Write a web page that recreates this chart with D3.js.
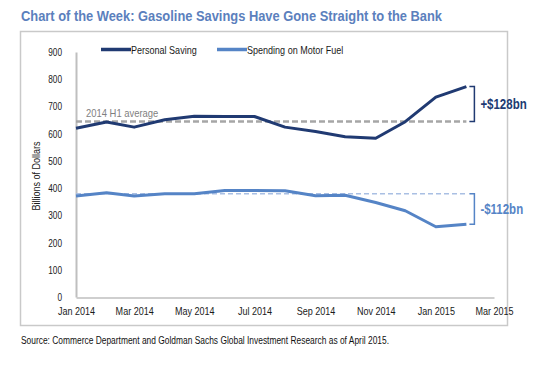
<!DOCTYPE html>
<html>
<head>
<meta charset="utf-8">
<script src="https://cdn.jsdelivr.net/npm/d3@7"></script>
<style>
  body { margin: 0; background: #fff; }
  text { font-family: "Liberation Sans", Arial, sans-serif; }
</style>
</head>
<body>
<div id="chart"></div>
<script>
// data (billions of dollars, monthly)
var months = ["2014-01", "2014-02", "2014-03", "2014-04", "2014-05", "2014-06", "2014-07",
              "2014-08", "2014-09", "2014-10", "2014-11", "2014-12", "2015-01", "2015-02"];
var personalSaving = [620, 643, 624, 651, 664, 663, 663, 624, 608, 589, 583, 644, 734, 773];
var motorFuel = [371, 383, 371, 379, 379, 391, 391, 390, 372, 374, 347, 317, 258, 267];
var savingH1Avg = 645;
var fuelH1Avg = 379;
var yTicks = [0, 100, 200, 300, 400, 500, 600, 700, 800, 900];
var xTicks = ["2014-01", "2014-03", "2014-05", "2014-07", "2014-09", "2014-11", "2015-01", "2015-03"];

var width = 550, height = 372;
var margin = { left: 76, right: 56, top: 52, bottom: 75 };
var parseMonth = d3.timeParse("%Y-%m");

// squeeze text horizontally to look like a narrow font
function narrow(sel, k) {
  sel.each(function() {
    var w = this.getComputedTextLength();
    d3.select(this)
      .attr("textLength", w * (k || 0.82))
      .attr("lengthAdjust", "spacingAndGlyphs");
  });
}

var svg = d3.select("#chart")
  .append("svg")
    .attr("width", width)
    .attr("height", height);

// title
svg.append("text")
  .attr("x", 21)
  .attr("y", 21)
  .attr("textLength", 421)
  .attr("lengthAdjust", "spacingAndGlyphs")
  .style("font-size", "15px")
  .style("font-weight", "bold")
  .style("fill", "#5b80bd")
  .text("Chart of the Week: Gasoline Savings Have Gone Straight to the Bank");

// frame
svg.append("rect")
  .attr("x", 20.5)
  .attr("y", 31.5)
  .attr("width", 487)
  .attr("height", 294)
  .attr("fill", "none")
  .attr("stroke", "#c9c9c9")
  .attr("stroke-width", 1.5);

// source
svg.append("text")
  .attr("x", 21)
  .attr("y", 344)
  .attr("textLength", 368)
  .attr("lengthAdjust", "spacingAndGlyphs")
  .style("font-size", "10px")
  .style("fill", "#111")
  .text("Source: Commerce Department and Goldman Sachs Global Investment Research as of April 2015.");

var x = d3.scaleTime()
  .domain([parseMonth("2014-01"), parseMonth("2015-03")])
  .range([margin.left, 494]);

var y = d3.scaleLinear()
  .domain([0, 900])
  .range([297, margin.top]);

// X axis
var gx = svg.append("g")
  .attr("transform", "translate(0,297.5)")
  .call(d3.axisBottom(x)
    .tickValues(xTicks.map(parseMonth))
    .tickFormat(d3.timeFormat("%b %Y"))
    .tickSize(0)
    .tickPadding(10));
gx.select(".domain").attr("stroke", "#bfbfbf").attr("stroke-width", 1.5);
gx.selectAll("text").style("font-size", "11px").style("fill", "#1a1a1a").style("font-family", "Liberation Sans, Arial").call(narrow);

// Y axis
var gy = svg.append("g")
  .attr("transform", "translate(" + margin.left + ",0)")
  .call(d3.axisLeft(y)
    .tickValues(yTicks)
    .tickSize(0)
    .tickPadding(14));
gy.select(".domain").attr("stroke", "#bfbfbf").attr("stroke-width", 2);
gy.selectAll("text").style("font-size", "11px").style("fill", "#1a1a1a").style("font-family", "Liberation Sans, Arial").call(narrow, 0.75);

// y axis title
svg.append("text")
  .attr("transform", "translate(40,176) rotate(-90)")
  .attr("text-anchor", "middle")
  .style("font-size", "11px")
  .style("fill", "#1a1a1a")
  .text("Billions of Dollars")
  .call(narrow);

var dates = months.map(parseMonth);
var first = dates[0], last = dates[dates.length - 1];

// average reference lines
svg.append("line")
  .attr("x1", x(first)).attr("x2", x(last))
  .attr("y1", y(savingH1Avg)).attr("y2", y(savingH1Avg))
  .attr("stroke", "#a6a6a6")
  .attr("stroke-width", 2.5)
  .attr("stroke-dasharray", "6,3");

svg.append("line")
  .attr("x1", x(first)).attr("x2", x(last))
  .attr("y1", y(fuelH1Avg)).attr("y2", y(fuelH1Avg))
  .attr("stroke", "#a9bfe3")
  .attr("stroke-width", 1.5)
  .attr("stroke-dasharray", "5,3");

svg.append("text")
  .attr("x", 86)
  .attr("y", y(savingH1Avg) - 4)
  .style("font-size", "11.5px")
  .style("fill", "#7f7f7f")
  .text("2014 H1 average")
  .call(narrow);

// lines
var line = d3.line()
  .x((d, i) => x(dates[i]))
  .y((d) => y(d));

svg.append("path")
  .datum(personalSaving)
  .attr("fill", "none")
  .attr("stroke", "#203a72")
  .attr("stroke-width", 3)
  .attr("stroke-linejoin", "round")
  .attr("d", line);

svg.append("path")
  .datum(motorFuel)
  .attr("fill", "none")
  .attr("stroke", "#5584c6")
  .attr("stroke-width", 3)
  .attr("stroke-linejoin", "round")
  .attr("d", line);

// brackets showing the change since H1
function bracket(from, to, color, label) {
  var bx = x(last) + 8;
  var y1 = y(from), y2 = y(to);
  svg.append("path")
    .attr("fill", "none")
    .attr("stroke", color)
    .attr("stroke-width", 1.5)
    .attr("d", "M" + (bx - 5) + "," + y1 + "H" + bx + "V" + y2 + "H" + (bx - 5));
  svg.append("text")
    .attr("x", bx + 6)
    .attr("y", (y1 + y2) / 2 + 5)
    .style("font-size", "14px")
    .style("font-weight", "bold")
    .style("fill", color)
    .text(label)
    .call(narrow);
}
bracket(savingH1Avg, personalSaving[personalSaving.length - 1], "#203a72", "+$128bn");
bracket(fuelH1Avg, motorFuel[motorFuel.length - 1], "#5584c6", "-$112bn");

// legend
var legend = [
  { name: "Personal Saving", color: "#203a72", x: 101 },
  { name: "Spending on Motor Fuel", color: "#5584c6", x: 217 }
];
legend.forEach((d) => {
  svg.append("line")
    .attr("x1", d.x).attr("x2", d.x + 30)
    .attr("y1", 49.5).attr("y2", 49.5)
    .attr("stroke", d.color)
    .attr("stroke-width", 3.5);
  svg.append("text")
    .attr("x", d.x + 30)
    .attr("y", 53.5)
    .style("font-size", "11px")
    .style("fill", "#1a1a1a")
    .text(d.name)
    .call(narrow);
});
</script>
</body>
</html>
